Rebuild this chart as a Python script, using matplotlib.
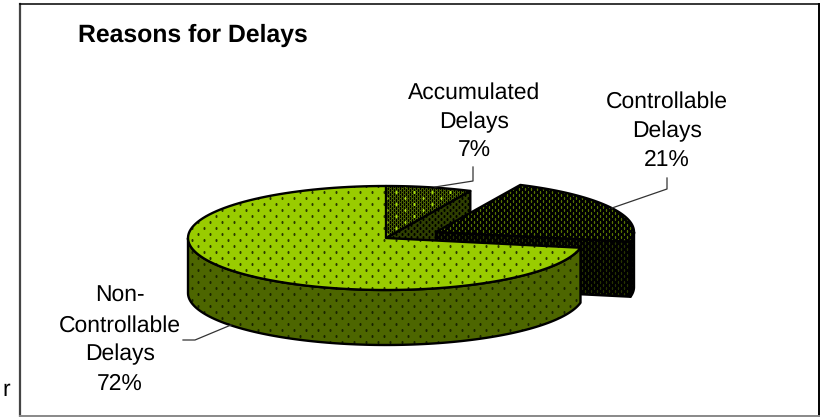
import numpy as np
import matplotlib
matplotlib.use('Agg')
import matplotlib.pyplot as plt
from matplotlib.patches import Polygon

plt.rcParams['font.family'] = ['Liberation Sans', 'DejaVu Sans']
plt.rcParams['text.hinting'] = 'none'

categories = ['Accumulated\nDelays', 'Controllable\nDelays', 'Non-\nControllable\nDelays']
shares = [7, 21, 72]
title = 'Reasons for Delays'

LIME = '#99cc00'
OLIVE = '#4d6600'
DARK = '#000000'

# pie geometry in pixels of the 823x417 picture
cx, cy = 386, 238
rx, ry = 198, 52
depth = 55
explode = (50, -6)

edges = np.cumsum([0] + shares) / sum(shares) * 2 * np.pi


def arc(t0, t1, c=(cx, cy), drop=0):
    t = np.linspace(t0, t1, 120)
    return np.column_stack([c[0] + rx * np.sin(t), c[1] - ry * np.cos(t) + drop])


def dots(patch, step_x, step_y, color, size):
    # staggered dot grid standing in for the office fill patterns
    for j, y in enumerate(np.arange(0, 417, step_y)):
        xs = np.arange(0, 823, step_x) + (step_x / 2 if j % 2 else 0)
        line, = ax.plot(xs, np.full_like(xs, y, dtype=float), ls='none', marker='s',
                        ms=size, mfc=color, mec='none', zorder=patch.get_zorder())
        line.set_clip_path(patch)


def face(points, fill, zorder, pattern=()):
    base = Polygon(points, closed=True, fc=fill, ec='none', zorder=zorder)
    ax.add_patch(base)
    for step_x, step_y, color, size in pattern:
        dots(base, step_x, step_y, color, size)
    ax.add_patch(Polygon(points, closed=True, fc='none', ec='black', lw=1.7,
                         joinstyle='round', zorder=zorder + 0.5))


fig = plt.figure(figsize=(8.23, 4.17), dpi=100)
ax = fig.add_axes([0, 0, 1, 1])
ax.set_xlim(0, 823)
ax.set_ylim(417, 0)
ax.axis('off')

main_dots = [(12, 6, '#1a2600', 1.5)]
top_dots = [(12, 6, '#2c3c00', 1.5)]
acc_dots = [(4, 2, '#000000', 1.0), (18, 6, '#a8dc10', 1.8)]
acc_side_dots = [(6, 3, '#000000', 1.5)]
ctrl_dots = [(6, 3, '#557300', 1.0)]
ctrl_side_dots = [(6, 3, '#263400', 1.0)]

# accumulated wedge: cut wall first, then the top
t0, t1 = edges[0], edges[1]
p = arc(t1, t1)[0]
face([(cx, cy), p, (p[0], p[1] + depth), (cx, cy + depth)], '#2f3f00', 2, acc_side_dots)
face(np.vstack([[(cx, cy)], arc(t0, t1)]), OLIVE, 3, acc_dots)

# controllable wedge, pulled out of the pie
c = (cx + explode[0], cy + explode[1])
t0, t1 = edges[1], edges[2]
p = arc(t1, t1, c)[0]
face([c, p, (p[0], p[1] + depth), (c[0], c[1] + depth)], DARK, 4, ctrl_side_dots)
face(np.vstack([arc(np.pi / 2, t1, c), arc(t1, np.pi / 2, c, depth)]), DARK, 4, ctrl_side_dots)
face(np.vstack([[c], arc(t0, t1, c)]), DARK, 5, ctrl_dots)

# non-controllable wedge: rim then top
t0, t1 = edges[2], edges[3]
front = arc(t0, 1.5 * np.pi)
face(np.vstack([front, arc(1.5 * np.pi, t0, drop=depth)]), OLIVE, 6, main_dots)
face(np.vstack([[(cx, cy)], arc(t0, t1)]), LIME, 7, top_dots)

# leader lines
ax.plot([473, 473, 435], [167, 181, 187], color='#333333', lw=0.9, zorder=8)
ax.plot([612, 667, 667], [208, 189, 178], color='#333333', lw=0.9, zorder=8)
ax.plot([183, 195, 231], [340, 340, 325], color='#333333', lw=0.9, zorder=8)

# labels
label_pos = [(474, 122), (667, 131), (120, 340)]
for name, share, (x, y) in zip(categories, shares, label_pos):
    ax.text(x, y, f'{name}\n{share}%', ha='center', va='center', fontsize=16.5,
            linespacing=1.47, color='black', zorder=9)

ax.text(78, 35, title, ha='left', va='center', fontsize=17.8, fontweight='bold')
ax.text(2, 390, 'r', ha='left', va='center', fontsize=16.5)

# chart frame
ax.plot([20, 20], [4, 416], color='#444444', lw=1.6, zorder=1)
ax.plot([20, 819], [4, 4], color='black', lw=1.1, zorder=1)
ax.plot([819, 819], [4, 416], color='black', lw=1.4, zorder=1)
ax.plot([20, 819], [416, 416], color='#888888', lw=1.4, zorder=1)

fig.savefig('out.png', dpi=100)
